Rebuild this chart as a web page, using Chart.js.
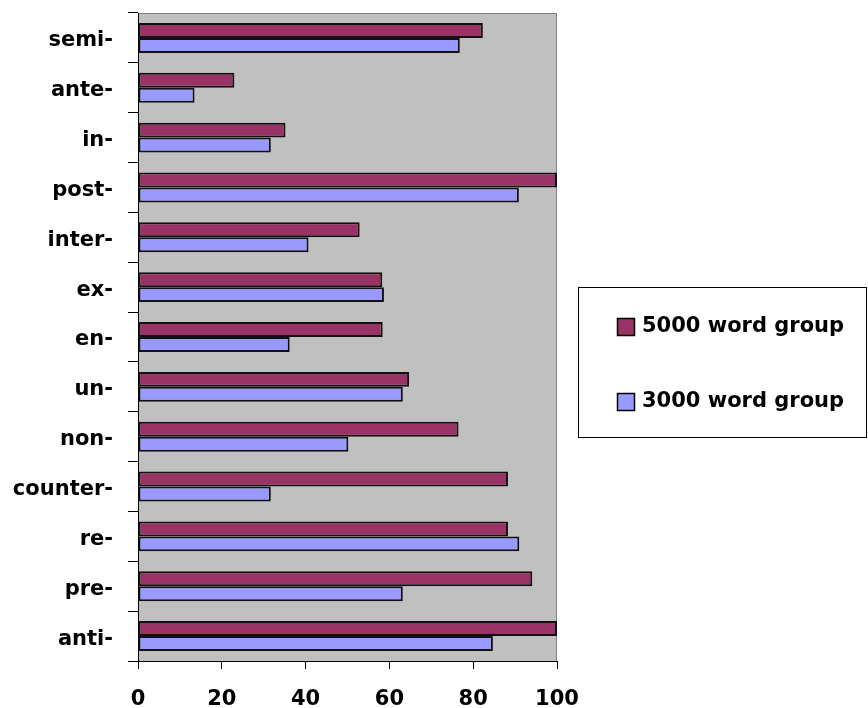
<!DOCTYPE html>
<html>
<head>
<meta charset="utf-8">
<title>Prefix recognition</title>
<script src="https://cdn.jsdelivr.net/npm/chart.js@4/dist/chart.umd.min.js"></script>
<style>
    html, body { margin: 0; padding: 0; background: #ffffff; }
    #chart { display: block; }
</style>
</head>
<body>
<canvas id="chart" width="868" height="708"></canvas>
<script>
// ══════════════════════════════════════════════
// DATA
// ══════════════════════════════════════════════

const prefixes = ['semi-', 'ante-', 'in-', 'post-', 'inter-', 'ex-', 'en-', 'un-', 'non-', 'counter-', 're-', 'pre-', 'anti-'];
const group5000 = [82.3, 23.0, 35.2, 100, 52.9, 58.3, 58.4, 64.7, 76.5, 88.3, 88.3, 94.1, 100];
const group3000 = [76.8, 13.5, 31.7, 90.9, 40.7, 58.7, 36.2, 63.2, 50.2, 31.7, 91.0, 63.2, 84.7];
const seriesNames = ['5000 word group', '3000 word group'];
const xTicks = [0, 20, 40, 60, 80, 100];

const FONT = { family: "'DejaVu Sans', Verdana, sans-serif", size: 21, weight: 'bold' };

// ══════════════════════════════════════════════
// PLUGINS
// ══════════════════════════════════════════════

// grey plot area with a thin grey frame (top + right)
const plotBackground = {
    id: 'plotBackground',
    beforeDraw(chart) {
        const { ctx, chartArea: a } = chart;
        ctx.save();
        ctx.fillStyle = '#c0c0c0';
        ctx.fillRect(a.left, a.top, a.right - a.left, a.bottom - a.top);
        ctx.strokeStyle = '#808080';
        ctx.lineWidth = 1;
        ctx.beginPath();
        ctx.moveTo(a.left, a.top + 0.5);
        ctx.lineTo(a.right - 0.5, a.top + 0.5);
        ctx.lineTo(a.right - 0.5, a.bottom);
        ctx.stroke();
        ctx.restore();
    }
};

// boxed legend on the right, built from the datasets
const boxLegend = {
    id: 'boxLegend',
    afterDraw(chart) {
        const ctx = chart.ctx;
        ctx.save();
        ctx.strokeStyle = '#000000';
        ctx.lineWidth = 1;
        ctx.strokeRect(578.5, 287.5, 288, 150);

        ctx.font = `${FONT.weight} ${FONT.size}px ${FONT.family}`;
        ctx.textBaseline = 'middle';
        ctx.textAlign = 'left';
        chart.data.datasets.forEach((ds, i) => {
            const cy = 327 + i * 75;
            ctx.fillStyle = ds.backgroundColor;
            ctx.fillRect(617, cy - 9, 18, 18);
            ctx.strokeStyle = '#000000';
            ctx.lineWidth = 1.5;
            ctx.strokeRect(617.5, cy - 8.5, 17, 17);
            ctx.fillStyle = '#000000';
            ctx.fillText(ds.label, 642, cy);
        });
        ctx.restore();
    }
};

// ══════════════════════════════════════════════
// CHART
// ══════════════════════════════════════════════

function makeDataset(label, values, color) {
    return {
        label: label,
        data: values,
        backgroundColor: color,
        borderColor: '#111111',
        borderWidth: 2,
        borderSkipped: false,
        barPercentage: 1.0,
        categoryPercentage: 0.6
    };
}

new Chart(document.getElementById('chart'), {
    type: 'bar',
    data: {
        labels: prefixes,
        datasets: [
            makeDataset(seriesNames[0], group5000, '#993366'),
            makeDataset(seriesNames[1], group3000, '#9999ff')
        ]
    },
    options: {
        indexAxis: 'y',
        responsive: false,
        animation: false,
        layout: { padding: { top: 13, right: 311, left: 0, bottom: 0 } },
        plugins: {
            legend: { display: false },
            tooltip: { enabled: false }
        },
        scales: {
            x: {
                min: 0,
                max: 100,
                afterBuildTicks(scale) {
                    scale.ticks = xTicks.map(v => ({ value: v }));
                },
                afterFit(scale) { scale.height = 47; },
                grid: {
                    drawOnChartArea: false,
                    drawTicks: true,
                    tickLength: 8,
                    color: '#000000'
                },
                border: { display: true, color: '#000000', width: 1 },
                ticks: {
                    font: FONT,
                    color: '#000000',
                    padding: 18,
                    maxRotation: 0
                }
            },
            y: {
                afterFit(scale) {
                    scale.width = 138;
                    scale.paddingTop = 0;
                    scale.paddingBottom = 0;
                },
                grid: {
                    offset: true,
                    drawOnChartArea: false,
                    drawTicks: true,
                    tickLength: 10,
                    color: '#000000'
                },
                border: { display: true, color: '#000000', width: 1 },
                ticks: {
                    font: FONT,
                    color: '#000000',
                    padding: 15,
                    labelOffset: 3
                }
            }
        }
    },
    plugins: [plotBackground, boxLegend]
});
</script>
</body>
</html>
